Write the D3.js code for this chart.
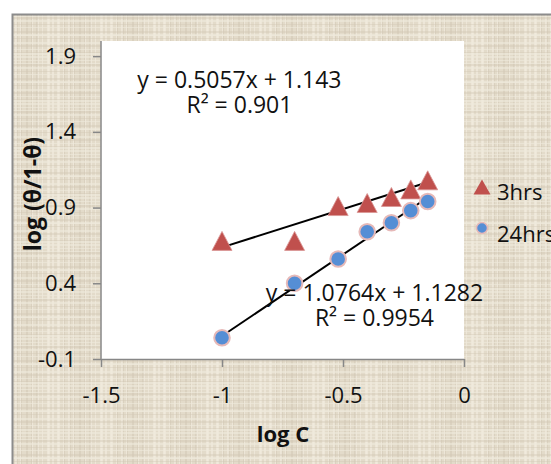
<!DOCTYPE html>
<html>
<head>
<meta charset="utf-8">
<script src="https://cdn.jsdelivr.net/npm/d3@7"></script>
<style>
  body { margin: 0; background: #fff; }
  svg { display: block; }
  text { font-family: "Open Sans", sans-serif; fill: #111; }
</style>
</head>
<body>
<div id="chart"></div>
<script>
// values
const logC = [-1, -0.7, -0.52, -0.4, -0.3, -0.22, -0.15]
const theta3hrs = [0.68, 0.68, 0.91, 0.93, 0.97, 1.02, 1.08]
const theta24hrs = [0.04, 0.40, 0.56, 0.74, 0.80, 0.88, 0.94]
const seriesNames = ['3hrs', '24hrs']
const xTicks = [-1.5, -1, -0.5, 0]
const yTicks = [-0.1, 0.4, 0.9, 1.4, 1.9]
const slopes = [0.5057, 1.0764]
const intercepts = [1.143, 1.1282]
const rSquared = ['0.901', '0.9954']
const eqLabels = ['y = 0.5057x + 1.143', 'y = 1.0764x + 1.1282']

const W = 551, H = 464
const plot = {left: 101, right: 464, top: 41, bottom: 359}

const svg = d3.select('#chart').append('svg').attr('width', W).attr('height', H)

// linen-like texture for the chart area
const defs = svg.append('defs')
const pat = defs.append('pattern').attr('id', 'linen')
    .attr('patternUnits', 'userSpaceOnUse').attr('width', 53).attr('height', 47)
pat.append('rect').attr('width', 53).attr('height', 47).attr('fill', '#e3dbca')
d3.range(18).map((i) => ((i * 37 + 11) % 53)).forEach((v, i) => {
  pat.append('rect').attr('x', v).attr('y', 0).attr('width', 1 + (i % 2)).attr('height', 47)
      .attr('fill', i % 3 ? '#f1ecdf' : '#cfc5b1').attr('opacity', i % 3 ? 0.7 : 0.45)
})
d3.range(16).map((i) => ((i * 29 + 5) % 47)).forEach((v, i) => {
  pat.append('rect').attr('x', 0).attr('y', v).attr('width', 53).attr('height', 1 + (i % 2))
      .attr('fill', i % 3 ? '#efe9dc' : '#d2c8b4').attr('opacity', i % 3 ? 0.6 : 0.4)
})

svg.append('rect')
    .attr('x', 12.5).attr('y', 14.5).attr('width', W).attr('height', H)
    .attr('fill', 'url(#linen)').attr('stroke', '#8c8c8c').attr('stroke-width', 2)

svg.append('rect')
    .attr('x', plot.left).attr('y', plot.top)
    .attr('width', plot.right - plot.left).attr('height', plot.bottom - plot.top)
    .attr('fill', '#fff')

const x = d3.scaleLinear().domain([-1.5, 0]).range([plot.left, plot.right])
const y = d3.scaleLinear().domain([-0.1, 2.0]).range([plot.bottom, plot.top])

const xAxis = svg.append('g').attr('transform', `translate(0,${plot.bottom})`)
    .call(d3.axisBottom(x).tickValues(xTicks).tickSize(8).tickSizeOuter(0).tickPadding(20)
        .tickFormat((d) => String(d)))
const yAxis = svg.append('g').attr('transform', `translate(${plot.left},0)`)
    .call(d3.axisLeft(y).tickValues(yTicks).tickSize(8).tickSizeOuter(0).tickPadding(17)
        .tickFormat((d) => d3.format('.1f')(d).replace('−', '-')))
;[xAxis, yAxis].forEach((ax) => {
  ax.select('.domain').attr('stroke', '#878787').attr('stroke-width', 1.5)
  ax.selectAll('.tick line').attr('stroke', '#878787').attr('stroke-width', 1.5)
  ax.selectAll('.tick text').attr('font-size', 22).attr('fill', '#111')
      .style('font-family', '"Open Sans", sans-serif')
})
yAxis.select('.domain').attr('d', `M0,${plot.top}V${plot.bottom}`)
xAxis.selectAll('.tick text').attr('dy', '0.71em')

// axis titles
svg.append('text').attr('x', 283).attr('y', 442).attr('text-anchor', 'middle')
    .attr('font-size', 22).attr('font-weight', 'bold').text('log C')
svg.append('text').attr('transform', `translate(41,${(plot.top + plot.bottom) / 2 - 6}) rotate(-90)`)
    .attr('text-anchor', 'middle').attr('font-size', 23).attr('font-weight', 'bold')
    .text('log (θ/1-θ)')

// trend lines
const xExt = d3.extent(logC)
const line = d3.line().x((d) => x(d[0])).y((d) => y(d[1]))
slopes.forEach((m, i) => {
  svg.append('path')
      .attr('d', line(xExt.map((v) => [v, m * v + intercepts[i]])))
      .attr('stroke', '#000').attr('stroke-width', 2).attr('fill', 'none')
})

// markers
const tri = (w, h) => ({draw: (ctx) => {
  ctx.moveTo(0, -h / 2); ctx.lineTo(w / 2, h / 2); ctx.lineTo(-w / 2, h / 2); ctx.closePath()
}})
svg.append('g').selectAll('path').data(logC.map((v, i) => [v, theta3hrs[i]])).join('path')
    .attr('transform', (d) => `translate(${x(d[0])},${y(d[1])})`)
    .attr('d', d3.symbol(tri(20, 19))())
    .attr('fill', '#c0504d').attr('stroke', '#d99694').attr('stroke-width', 0.8)
svg.append('g').selectAll('circle').data(logC.map((v, i) => [v, theta24hrs[i]])).join('circle')
    .attr('cx', (d) => x(d[0])).attr('cy', (d) => y(d[1])).attr('r', 7.8)
    .attr('fill', '#558ed5').attr('stroke', '#e6b9b8').attr('stroke-width', 2)

// trendline labels
const labelAt = [[-0.928, 1.69], [-0.37, 0.283]]
labelAt.forEach((p, i) => {
  const t = svg.append('text').attr('text-anchor', 'middle').attr('font-size', 23)
  t.append('tspan').attr('x', x(p[0])).attr('y', y(p[1])).text(eqLabels[i])
  t.append('tspan').attr('x', x(p[0])).attr('dy', 25).text(`R² = ${rSquared[i]}`)
})

// legend
const lg = svg.append('g').attr('transform', 'translate(482,187)')
lg.append('path').attr('d', d3.symbol(tri(17, 15))()).attr('fill', '#c0504d')
lg.append('circle').attr('cy', 41).attr('r', 5.5)
    .attr('fill', '#558ed5').attr('stroke', '#e6b9b8').attr('stroke-width', 1.5)
seriesNames.forEach((s, i) => {
  lg.append('text').attr('x', 15).attr('y', 5 + i * 42).attr('dy', '0.35em')
      .attr('font-size', 22).text(s)
})
</script>
</body>
</html>
